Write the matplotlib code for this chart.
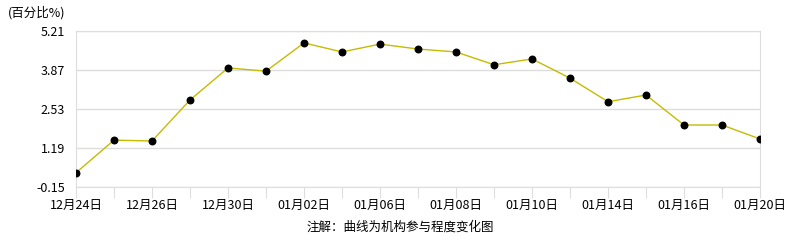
import matplotlib.pyplot as plt
import numpy as np

plt.rcParams['font.family'] = ['Noto Sans CJK SC', 'DejaVu Sans']

dates = ['12月24日', '12月25日', '12月26日', '12月27日', '12月30日', '12月31日',
         '01月02日', '01月03日', '01月06日', '01月07日', '01月08日', '01月09日',
         '01月10日', '01月13日', '01月14日', '01月15日', '01月16日', '01月17日',
         '01月20日']
values = [0.33, 1.45, 1.42, 2.83, 3.93, 3.82, 4.79, 4.48, 4.75, 4.58, 4.48,
          4.04, 4.24, 3.58, 2.77, 3.00, 1.97, 1.97, 1.49]
y_ticks = [-0.15, 1.19, 2.53, 3.87, 5.21]

fig = plt.figure(figsize=(7.86, 2.4), dpi=100)
ax = fig.add_axes([76 / 786, 1 - 186.7 / 240, (760 - 76) / 786, (186.7 - 30.7) / 240])

x = np.arange(len(dates))
ax.plot(x, values, color='#c4bc00', linewidth=1, zorder=3)
ax.scatter(x, values, color='black', s=22, zorder=4)

ax.set_xlim(0, len(dates) - 1)
ax.set_ylim(y_ticks[0], y_ticks[-1])
ax.set_yticks(y_ticks)
ax.set_yticklabels(['%.2f' % v for v in y_ticks], fontsize=9)
ax.set_xticks(x)
ax.set_xticklabels([d if i % 2 == 0 else '' for i, d in enumerate(dates)], fontsize=9)
ax.tick_params(axis='x', length=8, color='#dddddd', pad=1)
ax.tick_params(axis='y', length=0, pad=8)
ax.grid(axis='y', color='#dddddd', linewidth=1)
for s in ax.spines.values():
    s.set_color('#dddddd')

fig.text(8 / 786, 1 - 13 / 240, '(百分比%)', fontsize=9, va='center', ha='left')
fig.text(400 / 786, 1 - 227 / 240, '注解：曲线为机构参与程度变化图', fontsize=9,
         va='center', ha='center')

plt.savefig('out.png', dpi=100)
